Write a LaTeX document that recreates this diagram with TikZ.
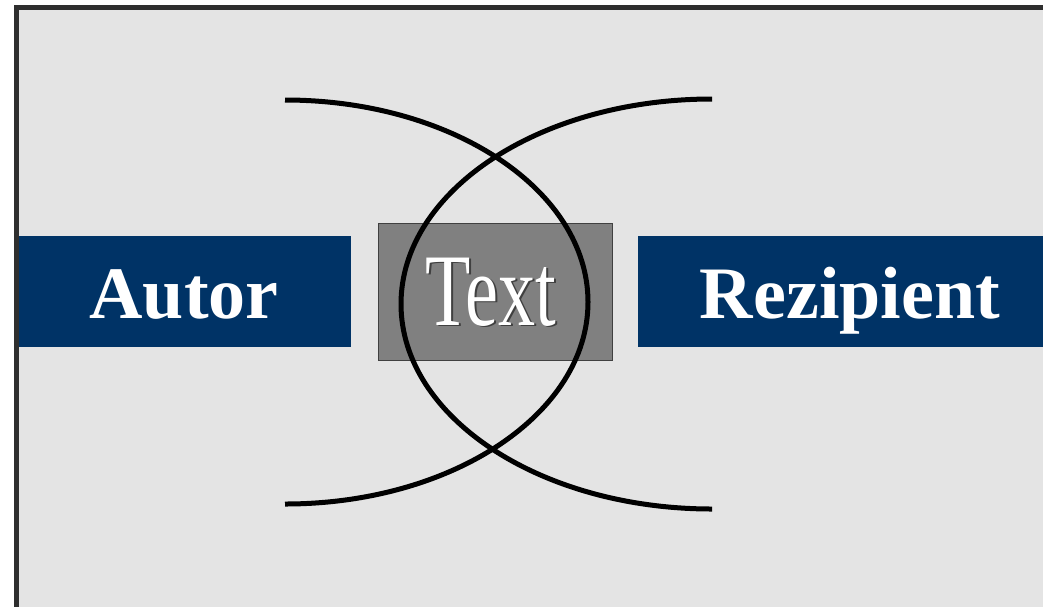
\documentclass[tikz,border=0pt]{standalone}
\usepackage{fontspec}
\setmainfont{Liberation Serif}
\definecolor{bgcol}{HTML}{E4E4E4}
\definecolor{framecol}{HTML}{2E2E2E}
\definecolor{bluebox}{HTML}{003366}
\definecolor{graybox}{HTML}{808080}
\definecolor{grayline}{HTML}{404040}
\begin{document}
\begin{tikzpicture}[x=1pt,y=-1pt,
  rolebox/.style={rectangle,fill=bluebox,draw=none,inner sep=0pt,anchor=north west},
  rolelabel/.style={text=white,font=\bfseries\fontsize{74}{80}\selectfont,anchor=base,inner sep=0pt},
  textbox/.style={rectangle,fill=graybox,draw=grayline,line width=1pt,inner sep=0pt,anchor=north west},
  centrelabel/.style={anchor=base,inner sep=0pt,xscale=0.72,font=\fontsize{103}{110}\selectfont},
  arcline/.style={line width=5pt,black}]
\useasboundingbox (0,0) rectangle (1043,606);
\begin{scope}
\clip (0,0) rectangle (1043,606);
\fill[white] (0,0) rectangle (1043,606);
\fill[framecol] (14,5) rectangle (1060,620);
\fill[bgcol] (19,10) rectangle (1060,620);
% blue boxes
\node[rolebox,minimum width=332pt,minimum height=111pt] (autorbox) at (19,236) {};
\node[rolebox,minimum width=420pt,minimum height=111pt] (rezbox) at (638,236) {};
\node[rolelabel] (autor) at (184,318) {Autor};
\node[rolelabel] (rez) at (850,318) {Rezipient};
% central text box
\node[textbox,minimum width=234pt,minimum height=137pt] (textbox) at (378,223) {};
\node[centrelabel,text=grayline] (textshadow) at (492.4,326.4) {Text};
\node[centrelabel,text=white] (textlabel) at (491,325) {Text};
% arcs
\draw[arcline] (285,100) arc[start angle=90,end angle=-90,x radius=303pt,y radius=202pt];
\draw[arcline] (712,99) arc[start angle=90,end angle=270,x radius=311pt,y radius=205pt];
\end{scope}
\end{tikzpicture}
\end{document}
